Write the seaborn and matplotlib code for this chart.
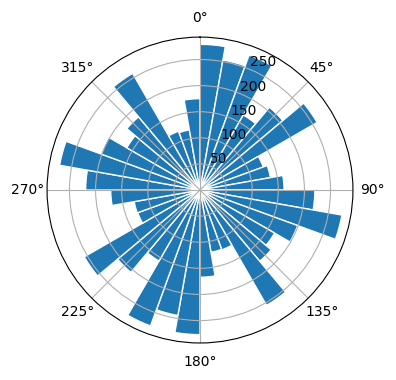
import numpy as np
import matplotlib
matplotlib.use("Agg")
import matplotlib.pyplot as plt
import seaborn as sns

# Direção (graus, borda esquerda de cada setor de 10°) e contagens
direcao_graus = [0, 10, 20, 30, 40, 50, 60, 70, 80,
                 90, 100, 110, 120, 130, 140, 150, 160, 170,
                 180, 190, 200, 210, 220, 230, 240, 250, 260,
                 270, 280, 290, 300, 310, 320, 330, 340, 350]
contagens = [279, 253, 275, 166, 207, 259, 129, 137, 161,
             220, 276, 199, 165, 178, 255, 122, 121, 167,
             277, 244, 277, 157, 206, 256, 127, 128, 171,
             219, 273, 202, 162, 183, 258, 120, 117, 175]
largura_setor = 10

cor = sns.color_palette("tab10")[0]

fig = plt.figure(figsize=(3.96, 3.8), dpi=100)
ax = fig.add_axes([0.1187, 0.0974, 0.7727, 0.805], projection="polar")
ax.set_theta_zero_location("N")
ax.set_theta_direction(-1)

ax.bar(np.deg2rad(direcao_graus), contagens, width=np.deg2rad(largura_setor),
       align="edge", color=cor, edgecolor="white", linewidth=1)

plt.savefig("out.png", dpi=100)
plt.close()
